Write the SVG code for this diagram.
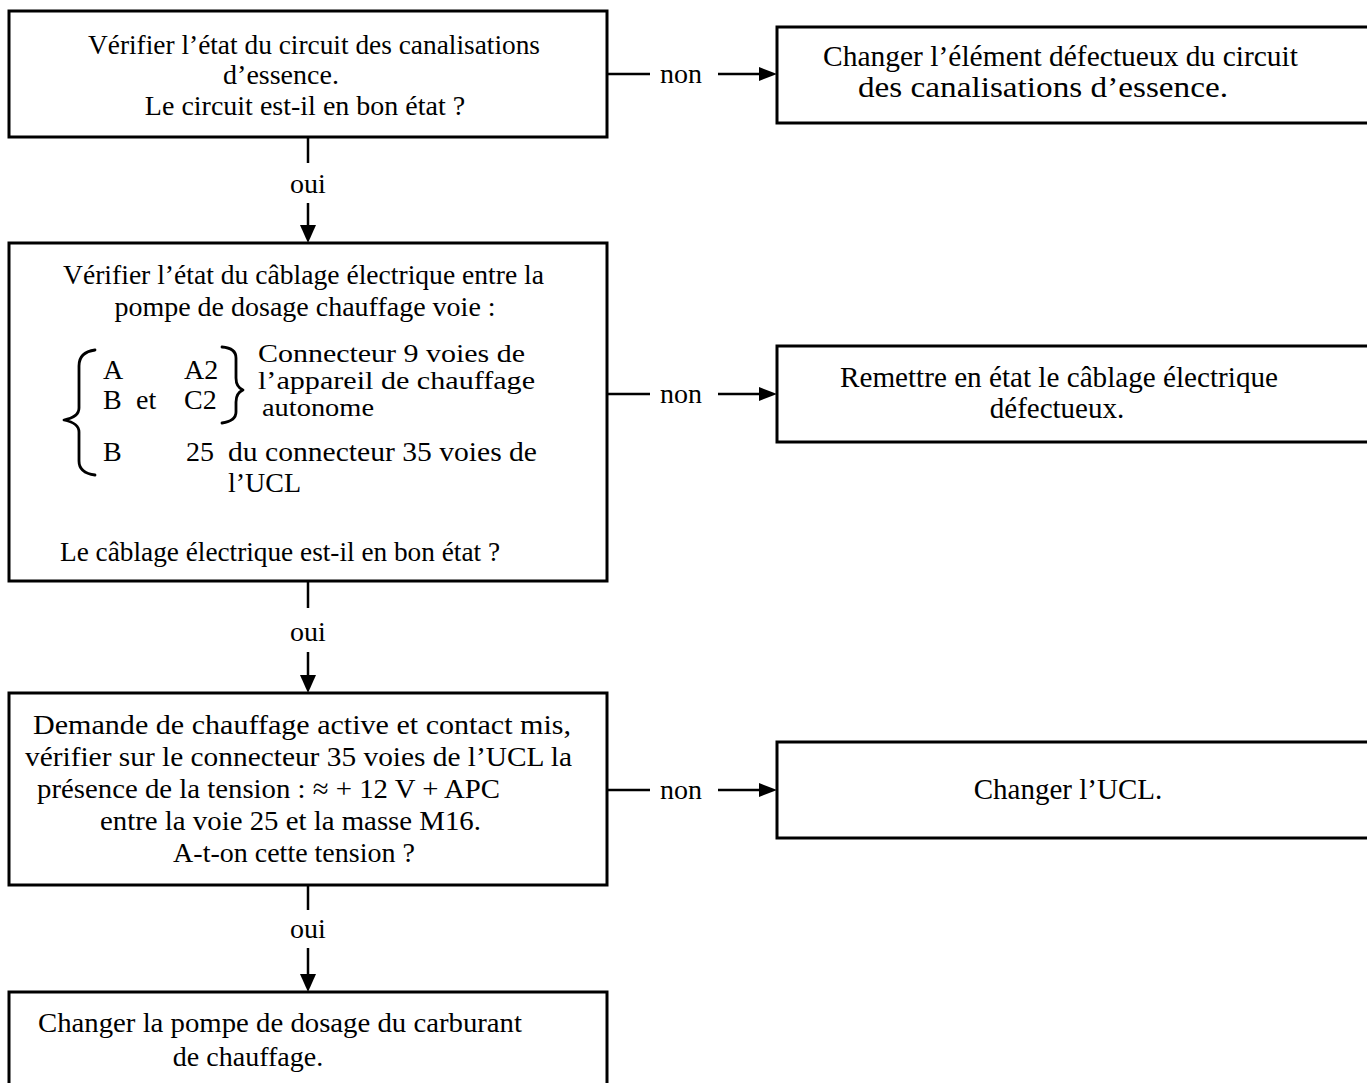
<svg xmlns="http://www.w3.org/2000/svg" width="1367" height="1083" viewBox="0 0 1367 1083">
<style>
.box{fill:#fff;stroke:#000;stroke-width:3}
.t{font-family:"Liberation Serif","Times New Roman",serif;font-size:28px;fill:#000}
.s{font-size:26px}
.r{font-family:"Liberation Serif","Times New Roman",serif;font-size:29px;fill:#000}
.m{text-anchor:middle}
.c{stroke:#000;stroke-width:2.5;fill:none}
.h{fill:#000}
.br{stroke:#000;stroke-width:2.8;fill:none;stroke-linecap:round;stroke-linejoin:round}
</style>
<rect width="1367" height="1083" fill="#fff"/>
<g id="n1">
<rect class="box" x="9" y="11" width="598" height="126"/>
<text class="t" x="88" y="54" textLength="452" lengthAdjust="spacingAndGlyphs">Vérifier l’état du circuit des canalisations</text>
<text class="t m" x="281" y="84">d’essence.</text>
<text class="t m" x="305" y="115">Le circuit est-il en bon état ?</text>
</g>
<g id="nA">
<rect class="box" x="777" y="27" width="600" height="96"/>
<text class="r" x="823" y="66" textLength="475" lengthAdjust="spacingAndGlyphs">Changer l’élément défectueux du circuit</text>
<text class="r" x="858" y="97" textLength="370" lengthAdjust="spacingAndGlyphs">des canalisations d’essence.</text>
</g>
<g id="n2">
<rect class="box" x="9" y="243" width="598" height="338"/>
<text class="t" x="63" y="284" textLength="481" lengthAdjust="spacingAndGlyphs">Vérifier l’état du câblage électrique entre la</text>
<text class="t m" x="305" y="316">pompe de dosage chauffage voie :</text>
<text class="t" x="103" y="379">A</text>
<text class="t" x="184" y="379">A2</text>
<text class="t" x="103" y="409">B</text>
<text class="t" x="136" y="409">et</text>
<text class="t" x="184" y="409">C2</text>
<text class="t s" x="258" y="362" textLength="267" lengthAdjust="spacingAndGlyphs">Connecteur 9 voies de</text>
<text class="t s" x="258" y="389" textLength="277" lengthAdjust="spacingAndGlyphs">l’appareil de chauffage</text>
<text class="t s" x="262" y="416" textLength="112" lengthAdjust="spacingAndGlyphs">autonome</text>
<text class="t" x="103" y="461">B</text>
<text class="t" x="186" y="461">25</text>
<text class="t" x="228" y="461" textLength="309" lengthAdjust="spacingAndGlyphs">du connecteur 35 voies de</text>
<text class="t" x="228" y="492">l’UCL</text>
<text class="t" x="60" y="561" textLength="440" lengthAdjust="spacingAndGlyphs">Le câblage électrique est-il en bon état ?</text>
<path class="br" d="M95,350 Q79,352 79,366 L79,408 Q79,417 64,420 Q79,423 79,432 L79,461 Q79,473 95,475"/>
<path class="br" d="M222,347 Q236,348 236,358 L236,378 Q236,387 243,390 Q236,393 236,402 L236,412 Q236,421 222,423"/>
</g>
<g id="nB">
<rect class="box" x="777" y="346" width="600" height="96"/>
<text class="r" x="840" y="387" textLength="438" lengthAdjust="spacingAndGlyphs">Remettre en état le câblage électrique</text>
<text class="r m" x="1057" y="418">défectueux.</text>
</g>
<g id="n3">
<rect class="box" x="9" y="693" width="598" height="192"/>
<text class="t" x="33" y="734" textLength="538" lengthAdjust="spacingAndGlyphs">Demande de chauffage active et contact mis,</text>
<text class="t" x="25" y="766" textLength="547" lengthAdjust="spacingAndGlyphs">vérifier sur le connecteur 35 voies de l’UCL la</text>
<text class="t" x="37" y="798" textLength="463" lengthAdjust="spacingAndGlyphs">présence de la tension : ≈ + 12 V + APC</text>
<text class="t" x="100" y="830" textLength="381" lengthAdjust="spacingAndGlyphs">entre la voie 25 et la masse M16.</text>
<text class="t m" x="294" y="862">A-t-on cette tension ?</text>
</g>
<g id="nC">
<rect class="box" x="777" y="742" width="600" height="96"/>
<text class="r m" x="1068" y="799">Changer l’UCL.</text>
</g>
<g id="n4">
<rect class="box" x="9" y="992" width="598" height="110"/>
<text class="t" x="38" y="1032" textLength="484" lengthAdjust="spacingAndGlyphs">Changer la pompe de dosage du carburant</text>
<text class="t m" x="248" y="1066">de chauffage.</text>
</g>
<g id="connectors">
<line class="c" x1="308" y1="137" x2="308" y2="163"/>
<text class="t m" x="308" y="193">oui</text>
<line class="c" x1="308" y1="203" x2="308" y2="228"/>
<polygon class="h" points="300,225 316,225 308,243"/>
<line class="c" x1="308" y1="581" x2="308" y2="608"/>
<text class="t m" x="308" y="641">oui</text>
<line class="c" x1="308" y1="652" x2="308" y2="678"/>
<polygon class="h" points="300,675 316,675 308,693"/>
<line class="c" x1="308" y1="885" x2="308" y2="910"/>
<text class="t m" x="308" y="938">oui</text>
<line class="c" x1="308" y1="948" x2="308" y2="977"/>
<polygon class="h" points="300,974 316,974 308,992"/>
<line class="c" x1="607" y1="74" x2="650" y2="74"/>
<text class="t m" x="681" y="83">non</text>
<line class="c" x1="718" y1="74" x2="762" y2="74"/>
<polygon class="h" points="759,67 759,81 777,74"/>
<line class="c" x1="607" y1="394" x2="650" y2="394"/>
<text class="t m" x="681" y="403">non</text>
<line class="c" x1="718" y1="394" x2="762" y2="394"/>
<polygon class="h" points="759,387 759,401 777,394"/>
<line class="c" x1="607" y1="790" x2="650" y2="790"/>
<text class="t m" x="681" y="799">non</text>
<line class="c" x1="718" y1="790" x2="762" y2="790"/>
<polygon class="h" points="759,783 759,797 777,790"/>
</g>
</svg>
